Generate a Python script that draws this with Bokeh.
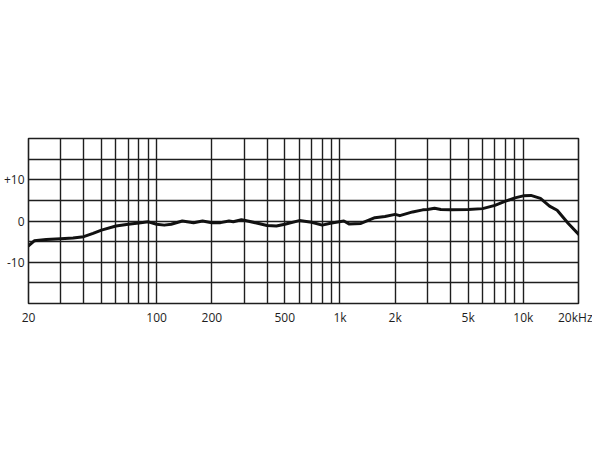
from bokeh.plotting import figure
from bokeh.models import FixedTicker, Range1d
from bokeh.embed import file_html
from bokeh.resources import INLINE

# Frequency response (Hz -> dB)
freq_hz = [20, 21.5, 25, 30, 35, 40, 45, 50, 60, 70, 80, 90, 100, 110, 120, 138,
           159, 178, 200, 223, 248, 262, 290, 300, 360, 400, 450, 500, 600, 700,
           800, 900, 1050, 1120, 1300, 1550, 1760, 2000, 2120, 2490, 2830, 3000,
           3280, 3550, 4000, 5000, 6000, 7000, 8000, 9000, 10000, 11000, 12400,
           13900, 15300, 17600, 20000]
level_db = [-6.0, -4.8, -4.5, -4.3, -4.1, -3.8, -3.0, -2.2, -1.2, -0.8, -0.5, -0.2,
            -0.8, -1.0, -0.8, 0.0, -0.4, 0.0, -0.4, -0.4, 0.0, -0.2, 0.3, 0.2,
            -0.6, -1.1, -1.2, -0.8, 0.1, -0.3, -1.0, -0.5, 0.0, -0.7, -0.6, 0.8,
            1.1, 1.6, 1.3, 2.2, 2.7, 2.8, 3.1, 2.8, 2.7, 2.8, 3.0, 3.8, 4.8, 5.6,
            6.1, 6.2, 5.5, 3.6, 2.6, -0.6, -3.2]

x_grid = [20, 30, 40, 50, 60, 70, 80, 90, 100, 200, 300, 400, 500, 600, 700, 800,
          900, 1000, 2000, 3000, 4000, 5000, 6000, 7000, 8000, 9000, 10000, 20000]
x_ticks = [20, 100, 200, 500, 1000, 2000, 5000, 10000, 20000]
x_labels = ["20", "100", "200", "500", "1k", "2k", "5k", "10k", "20kHz"]
y_grid = [-20, -15, -10, -5, 0, 5, 10, 15, 20]
y_ticks = [-10, 0, 10]
y_labels = ["-10", "0", "+10"]

INK = "#1e1e1e"
FONT = "Open Sans"

p = figure(width=592, height=434, x_axis_type="log",
           x_range=Range1d(20, 20000), y_range=Range1d(-20, 20),
           output_backend="svg", toolbar_location=None,
           min_border_left=28, min_border_right=14,
           min_border_top=138, min_border_bottom=131)
p.background_fill_color = "white"
p.border_fill_color = "white"
p.outline_line_color = INK
p.outline_line_width = 1.6

p.xaxis.ticker = FixedTicker(ticks=x_ticks)
p.xaxis.major_label_overrides = {t: l for t, l in zip(x_ticks, x_labels)}
p.yaxis.ticker = FixedTicker(ticks=y_ticks)
p.yaxis.major_label_overrides = {t: l for t, l in zip(y_ticks, y_labels)}

for ax in (p.xaxis, p.yaxis):
    ax.axis_line_color = None
    ax.major_tick_line_color = None
    ax.minor_tick_line_color = None
    ax.major_tick_out = 0
    ax.major_tick_in = 0
    ax.major_label_text_font = FONT
    ax.major_label_text_font_size = "12px"
    ax.major_label_text_color = INK
p.xaxis.major_label_standoff = 5
p.yaxis.major_label_standoff = 4

p.xgrid.ticker = FixedTicker(ticks=x_grid)
p.ygrid.ticker = FixedTicker(ticks=y_grid)
for g in (p.xgrid, p.ygrid):
    g.grid_line_color = INK
    g.grid_line_width = 1.4
    g.grid_line_alpha = 1.0

p.line(freq_hz, level_db, line_width=3, line_color="#111111",
       line_join="round", line_cap="round")

open("out.html", "w").write(file_html(p, INLINE))
